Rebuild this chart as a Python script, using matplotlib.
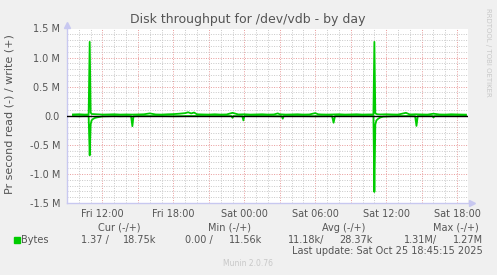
import matplotlib
matplotlib.use('Agg')
import matplotlib.pyplot as plt
from matplotlib.ticker import MultipleLocator
import numpy as np

# hours since Fri 00:00, values in kB/s
write_t = [9.5, 10.0, 10.5, 10.83, 10.92, 11.0, 11.08, 11.5, 12.0, 12.5, 13.0, 13.5, 14.0, 14.5,
           15.0, 15.5, 16.0, 16.5, 17.0, 17.5, 18.0, 18.5, 19.0, 19.25, 19.5, 19.75, 20.0, 20.5,
           21.0, 21.5, 22.0, 22.5, 23.0, 23.5, 24.0, 24.5, 25.0, 25.5, 26.0, 26.5, 26.83, 27.0,
           27.5, 28.0, 28.5, 29.0, 29.5, 30.0, 30.25, 30.5, 31.0, 31.5, 32.0, 32.5, 33.0, 33.5,
           34.0, 34.5, 34.92, 35.0, 35.08, 35.25, 35.5, 36.0, 36.5, 37.0, 37.67, 38.0, 38.5,
           39.0, 39.5, 40.0, 40.5, 41.0, 41.5, 42.0, 42.5, 42.75]
write_v = [22, 25, 20, 22, 1270, 55, 30, 25, 20, 22, 25, 20, 22, 20,
           22, 25, 40, 22, 20, 25, 28, 35, 45, 60, 40, 55, 25, 22,
           20, 25, 20, 22, 50, 22, 25, 20, 22, 25, 20, 22, 40, 25,
           20, 22, 25, 20, 22, 45, 25, 22, 20, 22, 25, 20, 22, 25,
           20, 22, 22, 1270, 40, 25, 22, 25, 22, 20, 50, 22, 25,
           22, 20, 35, 22, 20, 25, 22, 20, 19]

read_t = [9.5, 10.0, 10.5, 10.83, 10.92, 11.0, 11.08, 11.17, 11.33, 11.5, 11.75, 12.0, 12.5,
          13.0, 13.5, 14.0, 14.42, 14.53, 14.62, 15.0, 16.0, 17.0, 18.0, 19.0, 20.0, 21.0,
          22.0, 22.92, 23.0, 23.08, 23.83, 23.92, 24.0, 25.0, 26.0, 27.17, 27.25, 27.33, 28.0,
          29.0, 30.0, 31.42, 31.55, 31.67, 32.0, 33.0, 34.0, 34.92, 35.0, 35.08, 35.17, 35.33,
          35.5, 35.75, 36.5, 37.0, 38.0, 38.45, 38.56, 38.67, 39.0, 39.92, 40.0, 40.08, 41.0,
          42.0, 42.75]
read_v = [5, 8, 5, 6, 680, 150, 80, 60, 40, 30, 20, 10, 8,
          5, 8, 6, 8, 180, 10, 5, 6, 5, 8, 6, 5, 6,
          5, 6, 35, 6, 8, 80, 6, 5, 6, 8, 50, 6, 5,
          6, 8, 6, 120, 6, 5, 6, 5, 6, 1310, 150, 80, 50,
          30, 15, 8, 6, 5, 8, 175, 6, 5, 6, 30, 6, 5,
          6, 1.4]

x_ticks = [12, 18, 24, 30, 36, 42]
x_labels = ['Fri 12:00', 'Fri 18:00', 'Sat 00:00', 'Sat 06:00', 'Sat 12:00', 'Sat 18:00']
y_ticks = [-1.5e6, -1.0e6, -0.5e6, 0, 0.5e6, 1.0e6, 1.5e6]
y_labels = ['-1.5 M', '-1.0 M', '-0.5 M', '0.0', '0.5 M', '1.0 M', '1.5 M']

headers = ['Cur (-/+)', 'Min (-/+)', 'Avg (-/+)', 'Max (-/+)']
values = ['1.37 /', '18.75k', '0.00 /', '11.56k', '11.18k/', '28.37k', '1.31M/', '1.27M']

W, H = 497, 275
bg = '#F0F0F0'
txt = '#555555'
green = '#00CC00'

fig = plt.figure(figsize=(W / 100, H / 100), dpi=100, facecolor=bg)
plt.rcParams['font.family'] = ['DejaVu Sans']


def fx(px):
    return px / W


def fy(py):
    return 1 - py / H


ax = fig.add_axes([fx(67), fy(203), fx(468) - fx(67), fy(28.5) - fy(203)])
ax.set_facecolor('white')

ax.set_xlim(9.5, 42.92)
ax.set_ylim(-1.5e6, 1.5e6)

# grid
ax.xaxis.set_major_locator(MultipleLocator(3))
ax.xaxis.set_minor_locator(MultipleLocator(1))
ax.yaxis.set_major_locator(MultipleLocator(0.5e6))
ax.yaxis.set_minor_locator(MultipleLocator(0.1e6))
ax.grid(which='minor', color='#C8C8C8', linestyle=(0, (1, 1.5)), linewidth=0.7)
ax.grid(which='major', color='#E89A9A', linestyle=(0, (1, 1.5)), linewidth=0.7)
ax.set_axisbelow(True)

maj = np.arange(9, 43.5, 3)
ax.set_xticks(maj)
ax.set_xticklabels([x_labels[x_ticks.index(m)] if m in x_ticks else '' for m in maj])
ax.set_yticks(y_ticks)
ax.set_yticklabels(y_labels)
ax.tick_params(which='both', length=0, colors=txt, labelsize=7)
ax.tick_params(axis='x', pad=4)
ax.tick_params(axis='y', pad=5)

for s in ['top', 'right']:
    ax.spines[s].set_visible(False)
for s in ['left', 'bottom']:
    ax.spines[s].set_color('#C8C8F0')
    ax.spines[s].set_linewidth(1)

# arrows at axis ends
ax.plot([0], [1.02], marker='^', color='#C8C8F0', markersize=5, transform=ax.transAxes, clip_on=False)
ax.plot([1.01], [0], marker='>', color='#C8C8F0', markersize=5, transform=ax.transAxes, clip_on=False)

ax.plot(write_t, np.array(write_v) * 1000, color=green, linewidth=1.3, zorder=3)
ax.plot(read_t, -np.array(read_v) * 1000, color=green, linewidth=1.3, zorder=3)
ax.axhline(0, color='black', linewidth=1.0, zorder=4)

fig.text(fx(248), fy(19), 'Disk throughput for /dev/vdb - by day', ha='center', va='center',
         fontsize=9, color=txt)
fig.text(fx(10), fy(114), 'Pr second read (-) / write (+)', rotation=90, ha='center', va='center',
         fontsize=8, color=txt)
fig.text(fx(488), fy(52), 'RRDTOOL / TOBI OETIKER', rotation=270, ha='center', va='center',
         fontsize=5, color='#C8C8C8')

for h, xr in zip(headers, [140, 251, 365, 479]):
    fig.text(fx(xr), fy(228), h, ha='right', va='center', fontsize=7, color=txt)
fig.patches.append(plt.Rectangle((fx(14), fy(243)), fx(6), fy(237) - fy(243), color=green,
                                 transform=fig.transFigure, figure=fig))
fig.text(fx(21), fy(240), 'Bytes', ha='left', va='center', fontsize=7, color=txt)
for v, xr in zip(values, [109, 156, 213, 262, 324, 373, 437, 483]):
    fig.text(fx(xr), fy(240), v, ha='right', va='center', fontsize=7, color=txt)
fig.text(fx(483), fy(251), 'Last update: Sat Oct 25 18:45:15 2025', ha='right', va='center',
         fontsize=7, color=txt)
fig.text(fx(248), fy(264), 'Munin 2.0.76', ha='center', va='center', fontsize=5.5, color='#C8C8C8')

fig.savefig('out.png', dpi=100, facecolor=bg)
